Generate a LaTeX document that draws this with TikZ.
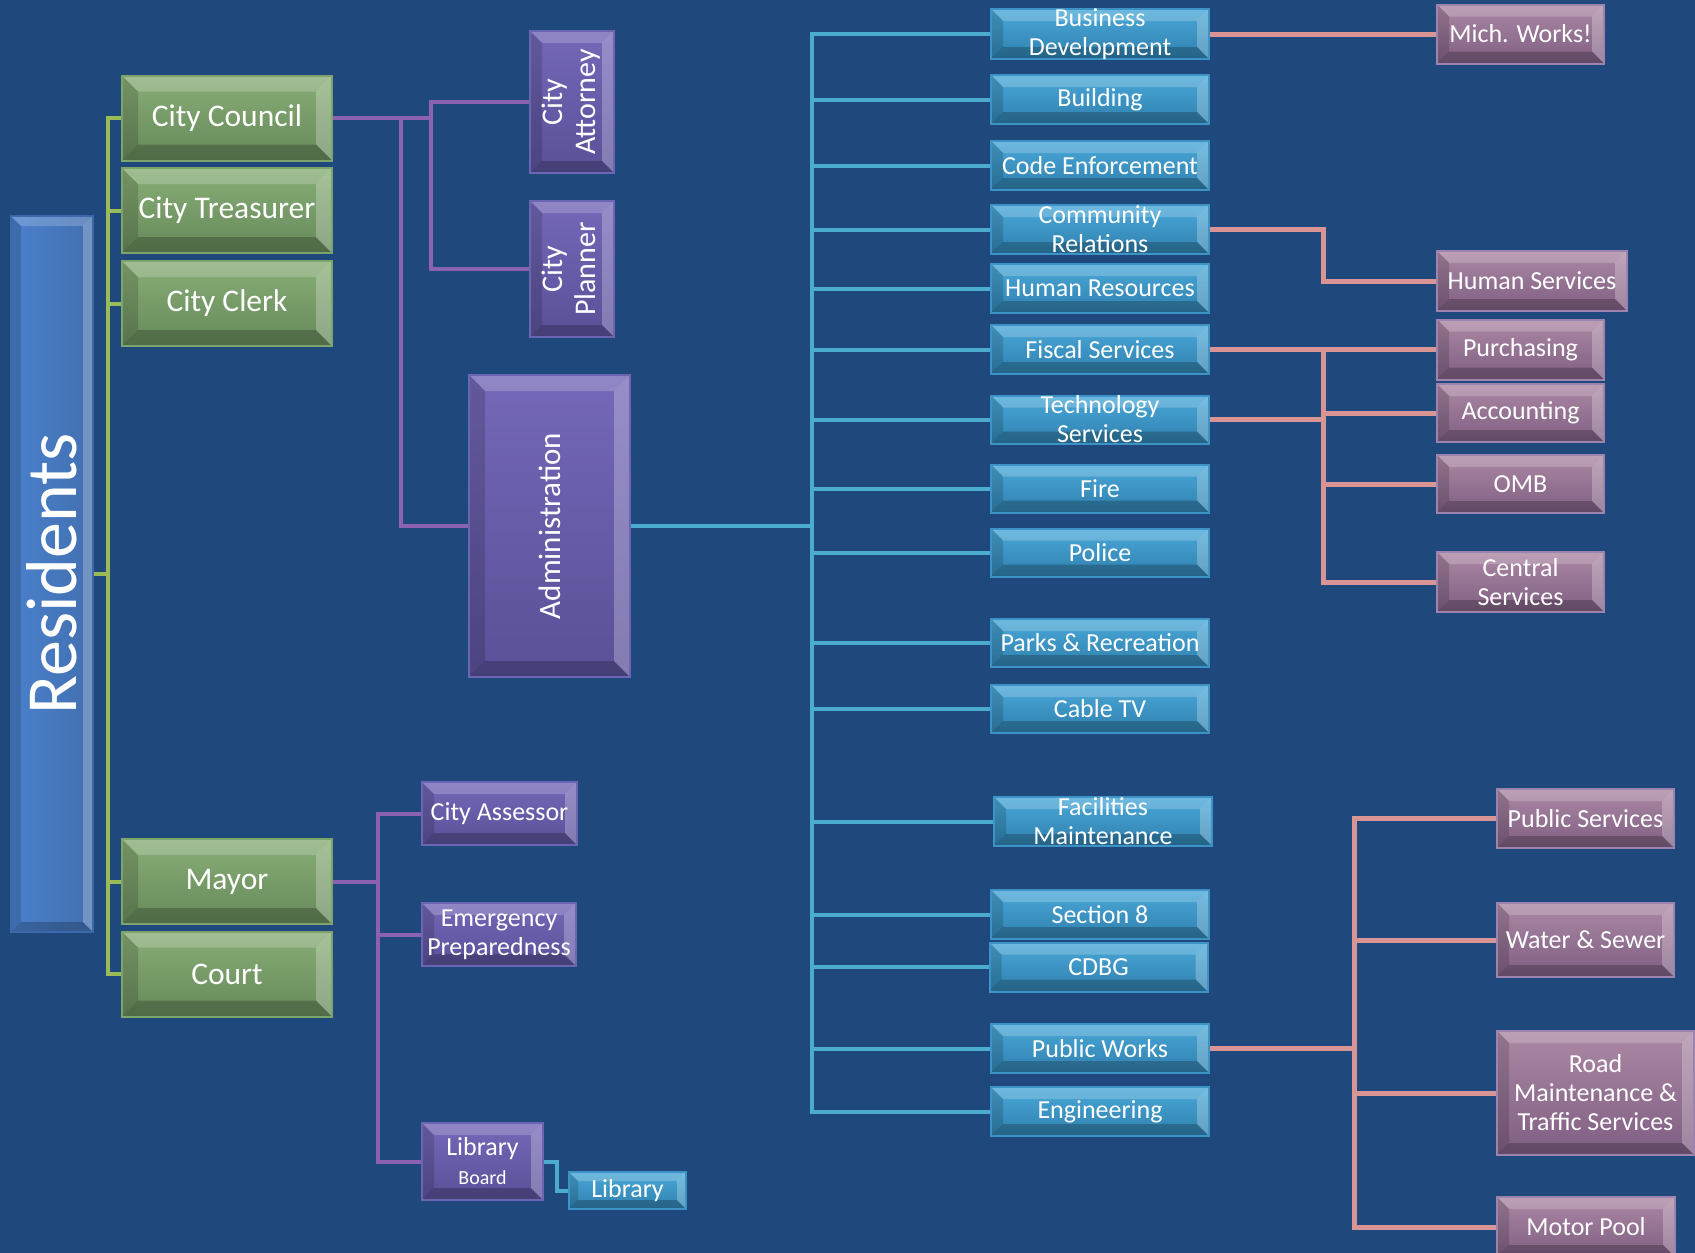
\documentclass[tikz,border=0pt]{standalone}
\usepackage{fontspec}
\setmainfont{Carlito}
\usepackage{graphicx}
\usetikzlibrary{calc}
\definecolor{bgc}{HTML}{1F497D}
\definecolor{gtop}{HTML}{88AE76}
\definecolor{gbot}{HTML}{66895A}
\definecolor{gbrd}{HTML}{7DA56B}
\definecolor{gline}{HTML}{9BBB59}
\definecolor{ptop}{HTML}{7468B8}
\definecolor{pbot}{HTML}{5A5098}
\definecolor{pbrd}{HTML}{6A66B4}
\definecolor{pline}{HTML}{8A62B0}
\definecolor{btop}{HTML}{4AA8D8}
\definecolor{bbot}{HTML}{2F80AE}
\definecolor{bbrd}{HTML}{3D92C6}
\definecolor{bline}{HTML}{4BACD0}
\definecolor{ktop}{HTML}{AC88A4}
\definecolor{kbot}{HTML}{7E5E82}
\definecolor{kbrd}{HTML}{9C84AE}
\definecolor{kline}{HTML}{D99594}
\definecolor{rtop}{HTML}{4A80CC}
\definecolor{rbot}{HTML}{4270B0}
\definecolor{rbrd}{HTML}{3D68AA}
\pgfdeclarelayer{bg}
\pgfsetlayers{bg,main}
\tikzset{
  bevel/.style={path picture={
    \path (path picture bounding box.north west) coordinate (pNW)
          (path picture bounding box.north east) coordinate (pNE)
          (path picture bounding box.south west) coordinate (pSW)
          (path picture bounding box.south east) coordinate (pSE);
    \fill[white,opacity=.20] (pNW) -- (pNE) -- ([xshift=-#1,yshift=-#1]pNE) -- ([xshift=#1,yshift=-#1]pNW) -- cycle;
    \fill[white,opacity=.25] (pNE) -- (pSE) -- ([xshift=-#1,yshift=#1]pSE) -- ([xshift=-#1,yshift=-#1]pNE) -- cycle;
    \fill[black,opacity=.22] (pSE) -- (pSW) -- ([xshift=#1,yshift=#1]pSW) -- ([xshift=-#1,yshift=#1]pSE) -- cycle;
    \fill[black,opacity=.15] (pSW) -- (pNW) -- ([xshift=#1,yshift=-#1]pNW) -- ([xshift=#1,yshift=#1]pSW) -- cycle;
  }},
  bevel/.default=12pt,
  wh/.style 2 args={minimum width=#1,minimum height=#2},
  box/.style={draw, line width=2pt, inner sep=0pt, rectangle},
  gbox/.style={box, top color=gtop, bottom color=gbot, draw=gbrd, bevel=16pt},
  pbox/.style={box, top color=ptop, bottom color=pbot, draw=pbrd, bevel=12pt},
  bbox/.style={box, top color=btop, bottom color=bbot, draw=bbrd, bevel=12pt},
  kbox/.style={box, top color=ktop, bottom color=kbot, draw=kbrd, bevel=12pt},
  rbox/.style={box, left color=rtop, right color=rbot, draw=rbrd, bevel=10pt},
  txt/.style={text=white, align=center, inner sep=0pt},
  gtxt/.style={txt, font=\fontsize{31.5}{34}\selectfont},
  stxt/.style={txt, font=\fontsize{26}{29}\selectfont},
  vtxt/.style={txt, font=\fontsize{30}{33}\selectfont},
  rtxt/.style={txt, font=\fontsize{72}{76}\selectfont},
  gconn/.style={draw=gline, line width=4pt},
  pconn/.style={draw=pline, line width=4pt},
  bconn/.style={draw=bline, line width=4pt},
  kconn/.style={draw=kline, line width=5pt},
}
\begin{document}
\begin{tikzpicture}[x=1pt,y=-1pt]
\useasboundingbox (0,0) rectangle (1695,1253);
% Residents
\node[rbox, wh={82}{716}, label={[rtxt]center:\rotatebox{90}{Residents}}] (res) at (52,574) {};
% green boxes
\node[gbox, wh={210}{85}, label={[gtxt]center:City Council}] (council) at (227,118) {};
\node[gbox, wh={210}{85}, label={[gtxt]center:City Treasurer}] (treasurer) at (227,210.5) {};
\node[gbox, wh={210}{85}, label={[gtxt]center:City Clerk}] (clerk) at (227,303.5) {};
\node[gbox, wh={210}{85}, label={[gtxt]center:Mayor}] (mayor) at (227,881.5) {};
\node[gbox, wh={210}{85}, label={[gtxt]center:Court}] (court) at (227,974) {};
% purple boxes
\node[pbox, wh={84}{142}, label={[vtxt]center:\rotatebox{90}{\begin{tabular}{@{}c@{}}City\\Attorney\end{tabular}}}] (attorney) at (572,102) {};
\node[pbox, wh={84}{136}, label={[vtxt]center:\rotatebox{90}{\begin{tabular}{@{}c@{}}City\\Planner\end{tabular}}}] (planner) at (572,269) {};
\node[pbox, wh={161}{302}, bevel=16pt, label={[vtxt, font=\fontsize{31}{34}\selectfont]center:\rotatebox{90}{Administration}}] (admin) at (549.5,526) {};
\node[pbox, wh={155}{63}, label={[stxt]center:City Assessor}] (assessor) at (499.5,813.5) {};
\node[pbox, wh={154}{63}, label={[stxt]center:{Emergency\\Preparedness}}] (emerg) at (499,934.5) {};
\node[pbox, wh={121}{77}, label={[stxt]center:{Library\\{\fontsize{20}{22}\selectfont Board}}}] (libboard) at (482.5,1161.5) {};
\node[bbox, wh={117}{37}, bevel=9pt, label={[stxt]center:Library}] (library) at (627.5,1190.5) {};
% blue boxes
\node[bbox, wh={218}{50}, label={[stxt]center:{Business\\Development}}] (busdev) at (1100,34) {};
\node[bbox, wh={218}{49}, label={[stxt]center:Building}] (building) at (1100,99.5) {};
\node[bbox, wh={218}{49}, label={[stxt]center:Code Enforcement}] (code) at (1100,165.5) {};
\node[bbox, wh={218}{49}, label={[stxt]center:{Community\\Relations}}] (commrel) at (1100,229.5) {};
\node[bbox, wh={218}{49}, label={[stxt]center:Human Resources}] (hr) at (1100,288.5) {};
\node[bbox, wh={218}{49}, label={[stxt]center:Fiscal Services}] (fiscal) at (1100,349.5) {};
\node[bbox, wh={218}{48}, label={[stxt]center:{Technology\\Services}}] (tech) at (1100,419.5) {};
\node[bbox, wh={218}{48}, label={[stxt]center:Fire}] (fire) at (1100,488.5) {};
\node[bbox, wh={218}{48}, label={[stxt]center:Police}] (police) at (1100,552.5) {};
\node[bbox, wh={218}{48}, label={[stxt]center:Parks \& Recreation}] (parks) at (1100,643) {};
\node[bbox, wh={218}{48}, label={[stxt]center:Cable TV}] (cable) at (1100,709) {};
\node[bbox, wh={218}{49}, label={[stxt]center:{Facilities\\Maintenance}}] (facil) at (1103,821.5) {};
\node[bbox, wh={218}{49}, label={[stxt]center:Section 8}] (sect8) at (1100,914.5) {};
\node[bbox, wh={218}{49}, label={[stxt]center:CDBG}] (cdbg) at (1098.5,967) {};
\node[bbox, wh={218}{49}, label={[stxt]center:Public Works}] (pworks) at (1100,1048.5) {};
\node[bbox, wh={218}{49}, label={[stxt]center:Engineering}] (eng) at (1100,1111.5) {};
% pink boxes
\node[kbox, wh={167}{59}, label={[stxt]center:Mich. Works!}] (mich) at (1520.5,34) {};
\node[kbox, wh={190}{60}, label={[stxt]center:Human Services}] (humserv) at (1532,281) {};
\node[kbox, wh={167}{60}, label={[stxt]center:Purchasing}] (purch) at (1520.5,349.5) {};
\node[kbox, wh={167}{58}, label={[stxt]center:Accounting}] (acct) at (1520.5,413) {};
\node[kbox, wh={167}{58}, label={[stxt]center:OMB}] (omb) at (1520.5,484) {};
\node[kbox, wh={167}{60}, label={[stxt]center:{Central\\Services}}] (central) at (1520.5,582) {};
\node[kbox, wh={177}{59}, label={[stxt]center:Public Services}] (pserv) at (1585.5,818.5) {};
\node[kbox, wh={177}{74}, label={[stxt]center:Water \& Sewer}] (water) at (1585.5,940) {};
\node[kbox, wh={197}{124}, label={[stxt]center:{Road\\Maintenance \&\\Traffic Services}}] (road) at (1595.5,1093) {};
\node[kbox, wh={178}{60}, label={[stxt]center:Motor Pool}] (motor) at (1586,1227) {};
% bus coordinates
\coordinate (gb) at (108,0);
\coordinate (pb1) at (401,0);
\coordinate (pb2) at (431,0);
\coordinate (mb) at (378,0);
\coordinate (bb) at (812,0);
\coordinate (kb1) at (1323,0);
\coordinate (kb2) at (1354,0);
\begin{pgfonlayer}{bg}
\fill[bgc] (0,0) rectangle (1695,1253);
% green
\draw[gconn] (res.east) -- (res.east -| gb);
\draw[gconn] (council.west) -- (council.west -| gb) |- (court.west);
\draw[gconn] (treasurer.west) -- (treasurer.west -| gb);
\draw[gconn] (clerk.west) -- (clerk.west -| gb);
\draw[gconn] (mayor.west) -- (mayor.west -| gb);
% purple
\draw[pconn] (council.east) -- (council.east -| pb2);
\draw[pconn] (attorney.west) -- (attorney.west -| pb2) |- (planner.west);
\draw[pconn] (council.east -| pb1) |- (admin.west);
\draw[pconn] (mayor.east) -- (mayor.east -| mb);
\draw[pconn] (assessor.west) -- (assessor.west -| mb) |- (libboard.west);
\draw[pconn] (emerg.west) -- (emerg.west -| mb);
\draw[bconn] (libboard.east) -- ++(13,0) |- (library.west);
% blue
\draw[bconn] (admin.east) -- (admin.east -| bb);
\draw[bconn] (busdev.west) -- (busdev.west -| bb) |- (eng.west);
\foreach \n in {building,code,commrel,hr,fiscal,tech,fire,police,parks,cable,facil,sect8,cdbg,pworks}
  \draw[bconn] (\n.west) -- (\n.west -| bb);
% pink
\draw[kconn] (busdev.east) -- (mich.west);
\draw[kconn] (commrel.east) -- (commrel.east -| kb1) |- (humserv.west);
\draw[kconn] (fiscal.east) -- (purch.west);
\draw[kconn] (fiscal.east -| kb1) |- (central.west);
\draw[kconn] (tech.east) -- (tech.east -| kb1);
\draw[kconn] (acct.west) -- (acct.west -| kb1);
\draw[kconn] (omb.west) -- (omb.west -| kb1);
\draw[kconn] (pworks.east) -- (pworks.east -| kb2);
\draw[kconn] (pserv.west) -- (pserv.west -| kb2) |- (motor.west);
\draw[kconn] (water.west) -- (water.west -| kb2);
\draw[kconn] (road.west) -- (road.west -| kb2);
\end{pgfonlayer}
\end{tikzpicture}
\end{document}
